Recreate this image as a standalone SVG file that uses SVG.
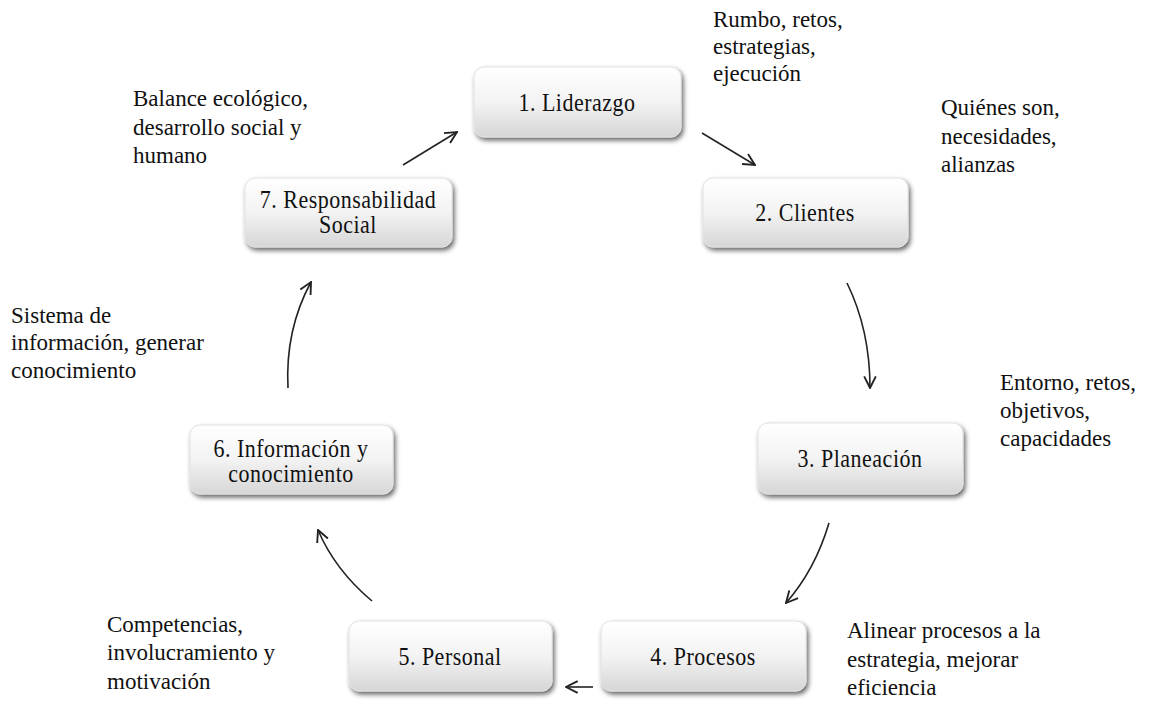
<svg xmlns="http://www.w3.org/2000/svg" width="1149" height="702" viewBox="0 0 1149 702">
<defs>
<linearGradient id="g" x1="0" y1="0" x2="0" y2="1">
<stop offset="0" stop-color="#ffffff"/>
<stop offset="0.5" stop-color="#f3f3f3"/>
<stop offset="1" stop-color="#d6d6d6"/>
</linearGradient>
<filter id="sh" x="-10%" y="-10%" width="125%" height="135%">
<feGaussianBlur in="SourceAlpha" stdDeviation="2.5"/>
<feOffset dx="2" dy="3" result="b"/>
<feComponentTransfer><feFuncA type="linear" slope="0.6"/></feComponentTransfer>
<feMerge><feMergeNode/><feMergeNode in="SourceGraphic"/></feMerge>
</filter>
<marker id="ah" viewBox="0 0 12 12" refX="11" refY="6" markerWidth="14" markerHeight="14" markerUnits="userSpaceOnUse" orient="auto">
<path d="M1,1 L11,6 L1,11" fill="none" stroke="#222" stroke-width="1.6"/>
</marker>
<style>
.box{fill:url(#g);stroke:#e2e2e2;stroke-width:1;filter:url(#sh)}
.bt{font-family:"Liberation Serif","Times New Roman",serif;font-size:22px;letter-spacing:0.5px;fill:#111;text-anchor:middle}
.lb{font-family:"Liberation Serif","Times New Roman",serif;font-size:23px;fill:#111}
.ar{fill:none;stroke:#222;stroke-width:1.6;marker-end:url(#ah)}
</style>
</defs>
<rect width="1149" height="702" fill="#fff"/>
<g id="n1"><rect class="box" x="474" y="67" width="207" height="70" rx="10"/><text class="bt" transform="translate(577,111) scale(1,1.12)">1. Liderazgo</text></g>
<g id="n2"><rect class="box" x="703" y="178" width="205" height="69" rx="10"/><text class="bt" transform="translate(805,221) scale(1,1.12)">2. Clientes</text></g>
<g id="n3"><rect class="box" x="758" y="423" width="205" height="71" rx="10"/><text class="bt" transform="translate(860,467) scale(1,1.12)">3. Planeación</text></g>
<g id="n4"><rect class="box" x="601" y="621" width="205" height="70" rx="10"/><text class="bt" transform="translate(703,665) scale(1,1.12)">4. Procesos</text></g>
<g id="n5"><rect class="box" x="349" y="621" width="203" height="70" rx="10"/><text class="bt" transform="translate(450,665) scale(1,1.12)">5. Personal</text></g>
<g id="n6"><rect class="box" x="190" y="425" width="203" height="69" rx="10"/><text class="bt" transform="translate(291,457) scale(1,1.12)">6. Información y</text><text class="bt" transform="translate(291,482) scale(1,1.12)">conocimiento</text></g>
<g id="n7"><rect class="box" x="245" y="178" width="207" height="69" rx="10"/><text class="bt" transform="translate(348,208) scale(1,1.12)">7. Responsabilidad</text><text class="bt" transform="translate(348,233) scale(1,1.12)">Social</text></g>
<g id="connectors">
<path class="ar" d="M403,165 L457,132"/>
<path class="ar" d="M702,133 L755,165"/>
<path class="ar" d="M847,283 Q870,330 870,388"/>
<path class="ar" d="M829,523 Q815,570 786,603"/>
<path class="ar" d="M593,687 L566,687"/>
<path class="ar" d="M372,601 Q335,570 318,530"/>
<path class="ar" d="M288,388 Q285,330 311,282"/>
</g>
<g id="labels">
<text class="lb" x="713" y="27">Rumbo, retos,</text>
<text class="lb" x="713" y="54">estrategias,</text>
<text class="lb" x="713" y="81">ejecución</text>
<text class="lb" x="941" y="115">Quiénes son,</text>
<text class="lb" x="941" y="144">necesidades,</text>
<text class="lb" x="941" y="172">alianzas</text>
<text class="lb" x="133" y="106">Balance ecológico,</text>
<text class="lb" x="133" y="135">desarrollo social y</text>
<text class="lb" x="133" y="163">humano</text>
<text class="lb" x="11" y="323">Sistema de</text>
<text class="lb" x="11" y="350">información, generar</text>
<text class="lb" x="11" y="378">conocimiento</text>
<text class="lb" x="1000" y="390">Entorno, retos,</text>
<text class="lb" x="1000" y="418">objetivos,</text>
<text class="lb" x="1000" y="446">capacidades</text>
<text class="lb" x="847" y="638">Alinear procesos a la</text>
<text class="lb" x="847" y="667">estrategia, mejorar</text>
<text class="lb" x="847" y="695">eficiencia</text>
<text class="lb" x="107" y="632">Competencias,</text>
<text class="lb" x="107" y="660">involucramiento y</text>
<text class="lb" x="107" y="689">motivación</text>
</g>
</svg>
